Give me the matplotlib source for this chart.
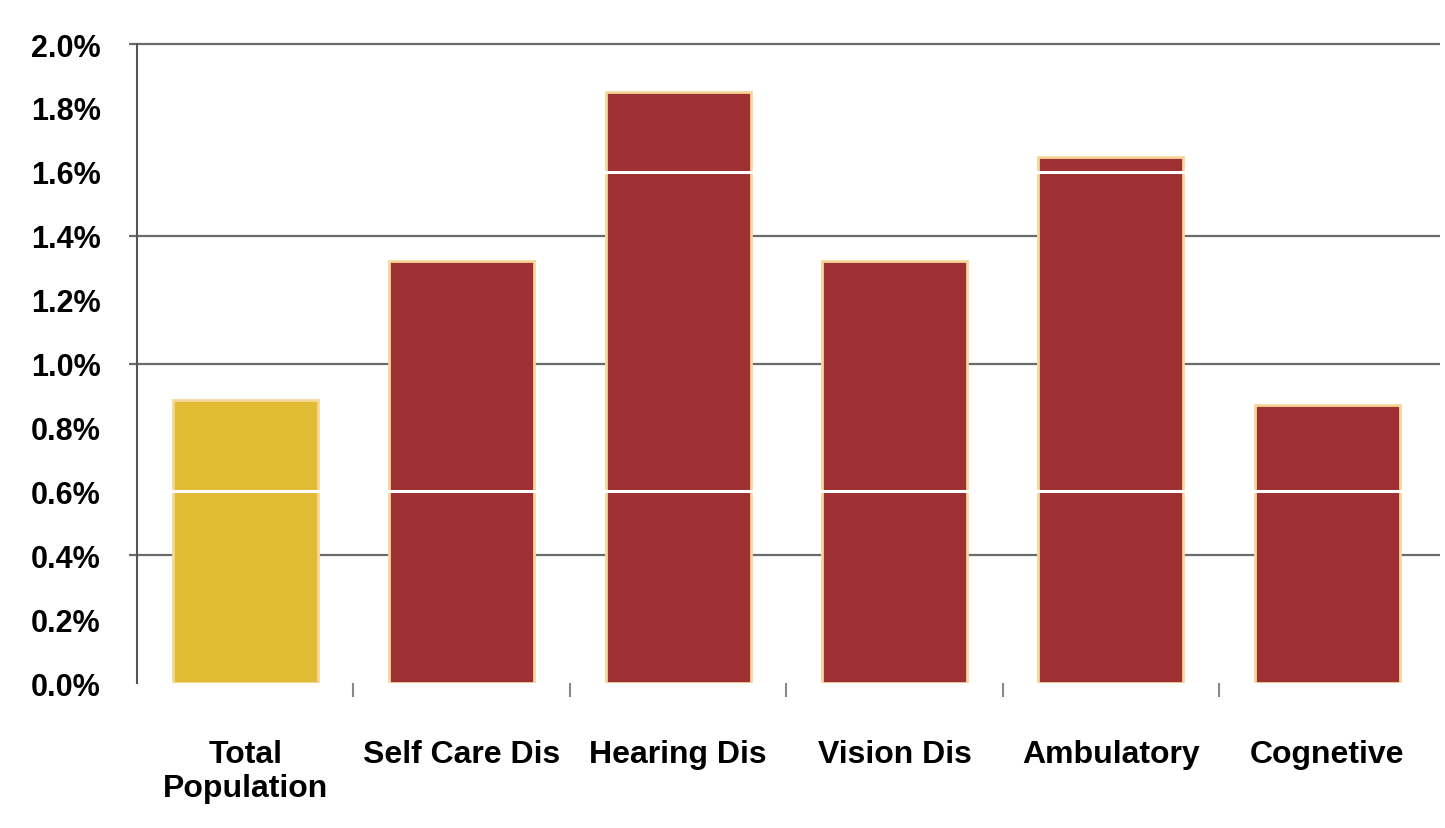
import matplotlib
matplotlib.use("Agg")
import matplotlib.pyplot as plt
import numpy as np

# values (percent)
categories = ["Total\nPopulation", "Self Care Dis", "Hearing Dis", "Vision Dis", "Ambulatory", "Cognetive"]
values = [0.885, 1.32, 1.85, 1.32, 1.645, 0.87]
bar_colors = ["#E2BB35", "#9E3033", "#9E3033", "#9E3033", "#9E3033", "#9E3033"]
y_ticks = [0.0, 0.2, 0.4, 0.6, 0.8, 1.0, 1.2, 1.4, 1.6, 1.8, 2.0]
gray_grid = [0.4, 1.0, 1.4, 2.0]
white_grid = [0.6, 1.6]

font = ["Liberation Sans", "DejaVu Sans"]

fig = plt.figure(figsize=(14.45, 8.29), dpi=100)
ax = fig.add_axes([0.0948, 0.1749, 0.9017, 0.7708])

x = np.arange(len(categories))
# gray gridlines, poking a little left of the axis like the original
ax.hlines(gray_grid, -0.535, len(categories) - 0.48, color="#6b6b6b", lw=1.6, zorder=1, clip_on=False)
ax.bar(x, values, width=0.67, color=bar_colors, edgecolor="#F6D79A", linewidth=2.0, zorder=2)
for g in white_grid:
    ax.axhline(g, color="white", lw=2.2, zorder=3)

ax.set_xlim(-0.5, len(categories) - 0.48)
ax.set_ylim(0, 2.0)

ax.set_yticks(y_ticks)
ax.set_yticklabels(["%.1f%%" % v for v in y_ticks], fontfamily=font, fontweight="bold", fontsize=22)
ax.tick_params(axis="y", length=0, pad=26)

ax.set_xticks(x)
ax.set_xticklabels(categories, fontfamily=font, fontweight="bold", fontsize=23, linespacing=1.2)
ax.tick_params(axis="x", length=0, pad=40)
ax.set_xticks(x[:-1] + 0.5, minor=True)
ax.tick_params(axis="x", which="minor", length=10, width=1.5, color="#888888", direction="out")

for side in ["top", "right", "bottom"]:
    ax.spines[side].set_visible(False)
ax.spines["left"].set_color("#555555")
ax.spines["left"].set_linewidth(1.5)
ax.spines["left"].set_zorder(5)

fig.savefig("out.png", dpi=100)
